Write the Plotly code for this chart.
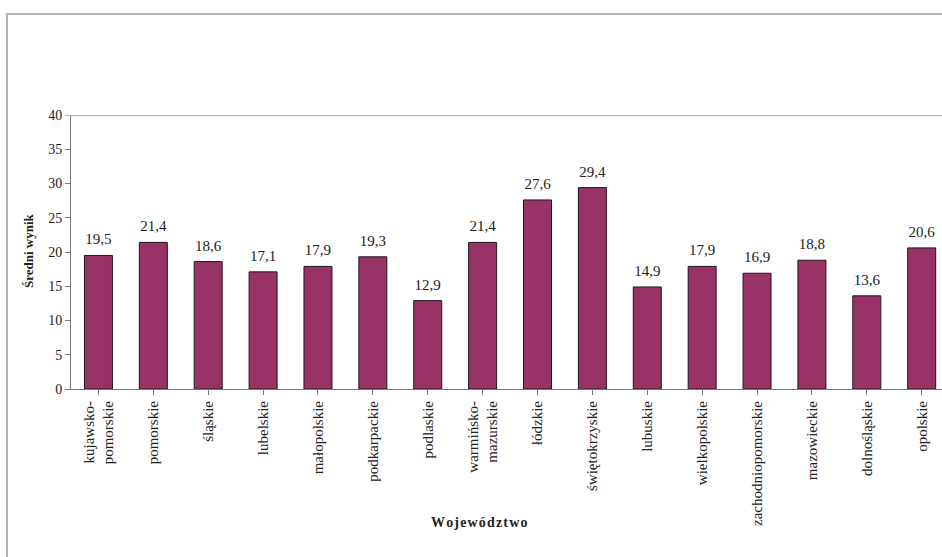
import plotly.graph_objects as go

categories = ["kujawsko-<br>pomorskie", "pomorskie", "śląskie", "lubelskie", "małopolskie",
              "podkarpackie", "podlaskie", "warmińsko-<br>mazurskie", "łódzkie", "świętokrzyskie",
              "lubuskie", "wielkopolskie", "zachodniopomorskie", "mazowieckie", "dolnośląskie", "opolskie"]
values = [19.5, 21.4, 18.6, 17.1, 17.9, 19.3, 12.9, 21.4, 27.6, 29.4, 14.9, 17.9, 16.9, 18.8, 13.6, 20.6]
value_labels = [f"{v:.1f}".replace(".", ",") for v in values]

W, H = 942, 557
L, R, T, B = 71, 0, 115, 168
pw, ph = W - L - R, H - T - B

def px_x(x):
    return (x - L) / pw

def px_y(y):
    return (H - B - y) / ph

serif = "Liberation Serif, Times New Roman, serif"
xs = list(range(len(categories)))

fig = go.Figure()
fig.add_trace(go.Bar(
    x=xs, y=values,
    marker=dict(color="#993366", line=dict(color="#1a1a1a", width=1)),
    width=0.51, hoverinfo="y",
))
fig.add_trace(go.Scatter(
    x=xs, y=values, mode="text+markers", text=value_labels,
    textposition="top center",
    marker=dict(size=10, color="rgba(0,0,0,0)"),
    textfont=dict(family=serif, size=15, color="#222"),
    cliponaxis=False, hoverinfo="skip",
))

fig.update_layout(
    width=W, height=H,
    margin=dict(l=L, r=R, t=T, b=B),
    paper_bgcolor="white", plot_bgcolor="white",
    showlegend=False,
    font=dict(family=serif, color="#222"),
    xaxis=dict(
        tickmode="array", tickvals=xs, ticktext=categories,
        tickangle=-90, range=[-0.5, 15.37],
        showline=True, linecolor="#777", linewidth=1,
        ticks="outside", ticklen=5, tickcolor="#777", tickson="boundaries",
        tickfont=dict(family=serif, size=15, color="#222"),
        showgrid=False, zeroline=False,
    ),
    yaxis=dict(
        range=[0, 40], dtick=5, tickmode="linear", tick0=0,
        showline=True, linecolor="#777", linewidth=1,
        ticks="outside", ticklen=5, tickcolor="#777",
        tickfont=dict(family=serif, size=14, color="#222"),
        showgrid=False, zeroline=False,
    ),
    shapes=[
        dict(type="line", xref="paper", yref="y", x0=px_x(65), x1=1.0, y0=40, y1=40,
             line=dict(color="#b4b4b4", width=2)),
        dict(type="rect", xref="paper", yref="paper",
             x0=px_x(7), x1=px_x(960), y0=px_y(580), y1=px_y(14),
             line=dict(color="#b4b4b4", width=2), fillcolor="rgba(0,0,0,0)"),
    ],
    annotations=[
        dict(text="<b>Średni wynik</b>", xref="paper", yref="paper",
             x=px_x(28), y=px_y(251), textangle=-90, showarrow=False,
             font=dict(family=serif, size=13, color="#222"), xanchor="center", yanchor="middle"),
        dict(text="<b>W o j e w ó d z t w o</b>".replace(" ", "&#8202;"), xref="paper", yref="paper",
             x=px_x(479), y=px_y(522), showarrow=False,
             font=dict(family=serif, size=14, color="#222"), xanchor="center", yanchor="middle"),
    ],
)

fig.write_html("out.html", config={"displayModeBar": False},
               post_script="document.body.style.margin='0';document.body.style.overflow='hidden';")
